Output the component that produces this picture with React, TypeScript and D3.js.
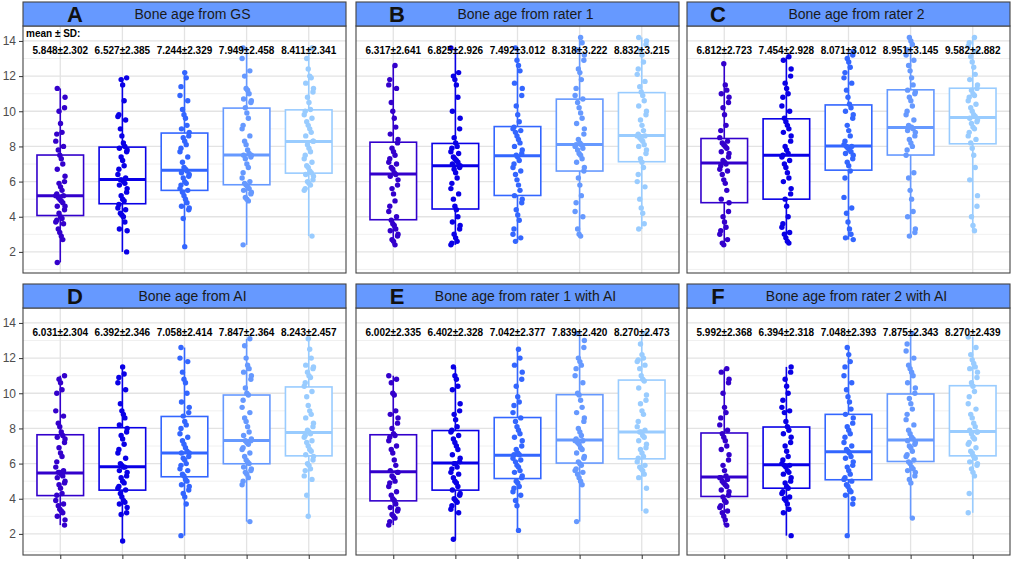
import { useEffect, useRef } from 'react';
import * as d3 from 'd3';

const GROUPS = ['G1', 'G2', 'G3', 'G4', 'G5'];
const GROUP_COLORS = ['#3300CC', '#0A00E6', '#3366FF', '#6699FF', '#99CCFF'];

const PANEL_LETTERS = ['A', 'B', 'C', 'D', 'E', 'F'];
const PANEL_TITLES = [
  'Bone age from GS',
  'Bone age from rater 1',
  'Bone age from rater 2',
  'Bone age from AI',
  'Bone age from rater 1 with AI',
  'Bone age from rater 2 with AI',
];

const MEAN_SD = [
  ['5.848±2.302', '6.527±2.385', '7.244±2.329', '7.949±2.458', '8.411±2.341'],
  ['6.317±2.641', '6.825±2.926', '7.492±3.012', '8.318±3.222', '8.832±3.215'],
  ['6.812±2.723', '7.454±2.928', '8.071±3.012', '8.951±3.145', '9.582±2.882'],
  ['6.031±2.304', '6.392±2.346', '7.058±2.414', '7.847±2.364', '8.243±2.457'],
  ['6.002±2.335', '6.402±2.328', '7.042±2.377', '7.839±2.420', '8.270±2.473'],
  ['5.992±2.368', '6.394±2.318', '7.048±2.393', '7.875±2.343', '8.270±2.439'],
];

// box statistics (per panel, per group)
const Q1 = [
  [4.07, 4.74, 5.5, 5.82, 6.48],
  [3.83, 4.44, 5.21, 6.6, 7.13],
  [4.8, 5.0, 6.65, 7.51, 8.15],
  [4.18, 4.49, 5.25, 5.99, 6.44],
  [3.88, 4.49, 5.15, 6.03, 6.27],
  [4.13, 4.6, 5.08, 6.12, 6.44],
];
const MEDIAN = [
  [5.19, 6.12, 6.65, 7.51, 8.28],
  [6.43, 6.9, 7.47, 8.11, 8.62],
  [7.05, 7.5, 8.03, 9.07, 9.64],
  [5.46, 5.82, 6.6, 7.31, 7.77],
  [5.53, 6.03, 6.48, 7.34, 7.79],
  [5.23, 5.93, 6.67, 7.34, 7.83],
];
const Q3 = [
  [7.51, 7.96, 8.76, 10.18, 10.08],
  [8.24, 8.17, 9.13, 10.69, 11.06],
  [8.45, 9.57, 10.36, 11.22, 11.31],
  [7.64, 8.04, 8.68, 9.9, 10.36],
  [7.64, 7.88, 8.62, 9.92, 10.75],
  [7.74, 8.08, 8.8, 9.96, 10.43],
];

const POINTS_A = [
  [1.4, 2.7, 2.9, 3.1, 3.3, 3.6, 3.7, 3.8, 3.9, 4.0, 4.2, 4.4, 4.6, 4.6, 4.8, 4.9, 5.0, 5.1, 5.2, 5.2, 5.3, 5.5, 5.7, 5.9, 6.0, 6.3, 6.7, 7.0, 7.3, 7.5, 7.8, 8.0, 8.3, 8.7, 8.8, 9.3, 10.0, 10.2, 10.8, 11.3],
  [2.0, 3.2, 3.3, 3.7, 4.0, 4.1, 4.2, 4.4, 4.5, 4.7, 4.9, 5.0, 5.2, 5.4, 5.6, 5.8, 5.9, 6.0, 6.1, 6.1, 6.2, 6.4, 6.7, 6.9, 7.2, 7.4, 7.7, 7.8, 7.9, 8.0, 8.2, 8.6, 9.0, 9.5, 9.7, 9.8, 10.6, 11.5, 11.8, 11.9],
  [2.3, 3.9, 4.4, 4.5, 4.6, 4.8, 5.0, 5.2, 5.4, 5.5, 5.6, 5.8, 5.9, 6.0, 6.2, 6.3, 6.4, 6.5, 6.6, 6.7, 6.8, 7.1, 7.4, 7.7, 7.9, 8.1, 8.3, 8.5, 8.6, 8.8, 9.0, 9.2, 9.6, 9.8, 10.1, 10.6, 10.9, 11.4, 11.9, 12.2],
  [2.4, 4.9, 5.0, 5.1, 5.3, 5.4, 5.5, 5.6, 5.7, 5.8, 5.9, 6.0, 6.2, 6.5, 6.8, 7.0, 7.3, 7.4, 7.5, 7.5, 7.6, 7.8, 8.1, 8.3, 8.6, 9.0, 9.2, 9.6, 9.9, 10.2, 10.5, 10.6, 10.7, 11.0, 11.2, 11.3, 12.0, 12.3, 13.0, 13.6],
  [2.9, 5.5, 5.6, 5.8, 5.9, 6.0, 6.1, 6.3, 6.4, 6.5, 6.6, 6.8, 6.9, 7.1, 7.3, 7.5, 7.7, 7.9, 8.1, 8.3, 8.3, 8.6, 8.8, 9.0, 9.2, 9.4, 9.6, 9.8, 10.0, 10.1, 10.5, 10.8, 11.1, 11.3, 11.6, 11.9, 12.0, 12.4, 13.0, 13.6],
];
const POINTS_B = [
  [2.4, 2.6, 2.7, 2.9, 3.0, 3.2, 3.3, 3.5, 3.6, 3.8, 4.0, 4.3, 4.6, 4.9, 5.3, 5.6, 5.8, 6.1, 6.3, 6.4, 6.5, 6.7, 6.8, 7.0, 7.1, 7.3, 7.5, 7.7, 7.9, 8.2, 8.4, 8.7, 9.1, 9.6, 10.0, 10.5, 11.3, 11.5, 11.8, 12.6],
  [2.4, 2.5, 2.6, 2.8, 3.0, 3.3, 3.5, 3.7, 4.0, 4.4, 4.6, 5.0, 5.3, 5.6, 5.9, 6.2, 6.5, 6.7, 6.8, 6.9, 7.0, 7.1, 7.2, 7.3, 7.4, 7.6, 7.7, 7.9, 8.0, 8.2, 8.5, 9.0, 9.6, 10.0, 10.8, 11.5, 11.8, 12.0, 12.2, 13.6],
  [2.6, 2.8, 3.0, 3.3, 3.8, 4.1, 4.4, 4.8, 5.0, 5.2, 5.5, 5.8, 6.1, 6.4, 6.6, 6.8, 7.0, 7.2, 7.4, 7.5, 7.6, 7.8, 8.0, 8.2, 8.4, 8.6, 8.8, 8.9, 9.0, 9.1, 9.4, 9.8, 10.3, 10.9, 11.3, 11.6, 12.3, 12.6, 12.9, 13.6],
  [2.9, 3.0, 3.3, 4.0, 4.3, 4.8, 5.2, 5.8, 6.2, 6.6, 6.8, 7.1, 7.3, 7.5, 7.6, 7.8, 7.9, 8.0, 8.1, 8.1, 8.2, 8.4, 8.7, 9.0, 9.3, 9.6, 9.9, 10.2, 10.5, 10.7, 10.9, 11.3, 11.8, 12.2, 12.4, 12.9, 13.2, 13.5, 13.9, 14.2],
  [3.3, 3.6, 4.2, 4.5, 5.0, 5.7, 6.0, 6.4, 6.8, 7.1, 7.3, 7.6, 7.8, 8.0, 8.1, 8.3, 8.4, 8.5, 8.6, 8.6, 8.7, 8.9, 9.2, 9.5, 9.8, 10.0, 10.3, 10.6, 10.9, 11.1, 11.4, 11.7, 12.1, 12.4, 12.8, 13.2, 13.5, 13.8, 14.0, 14.2],
];
const POINTS_C = [
  [2.4, 2.5, 2.7, 3.0, 3.2, 3.4, 3.7, 4.0, 4.3, 4.8, 5.0, 5.5, 5.9, 6.1, 6.4, 6.6, 6.7, 6.9, 7.0, 7.1, 7.2, 7.4, 7.6, 7.7, 7.9, 8.0, 8.1, 8.2, 8.3, 8.5, 8.9, 9.2, 9.8, 10.2, 10.5, 10.8, 11.0, 11.2, 11.5, 12.7],
  [2.5, 2.6, 2.8, 3.0, 3.1, 3.4, 3.6, 4.0, 4.6, 5.0, 5.3, 5.6, 6.0, 6.2, 6.5, 6.8, 7.0, 7.2, 7.4, 7.5, 7.6, 7.8, 8.0, 8.3, 8.6, 8.8, 9.0, 9.2, 9.4, 9.6, 10.0, 10.3, 10.8, 11.0, 11.3, 11.6, 12.0, 12.4, 12.9, 13.1],
  [2.7, 2.8, 3.0, 3.3, 3.7, 4.2, 4.5, 5.1, 6.2, 6.6, 6.9, 7.1, 7.3, 7.5, 7.6, 7.7, 7.8, 7.9, 8.0, 8.0, 8.1, 8.3, 8.6, 8.9, 9.2, 9.6, 9.8, 10.0, 10.2, 10.4, 10.8, 11.2, 11.6, 11.9, 12.2, 12.5, 12.8, 13.0, 13.2, 13.4],
  [2.9, 3.1, 3.3, 4.0, 4.3, 5.0, 5.5, 6.2, 6.5, 7.5, 7.8, 8.0, 8.2, 8.4, 8.6, 8.8, 8.9, 9.0, 9.1, 9.1, 9.2, 9.5, 9.8, 10.0, 10.3, 10.6, 10.8, 11.0, 11.1, 11.2, 11.5, 11.9, 12.3, 12.6, 12.9, 13.2, 13.5, 13.8, 14.0, 14.2],
  [3.2, 3.5, 4.0, 4.6, 5.2, 6.1, 6.8, 7.5, 7.9, 8.2, 8.4, 8.6, 8.8, 9.0, 9.1, 9.3, 9.4, 9.5, 9.6, 9.7, 9.8, 10.0, 10.2, 10.4, 10.6, 10.8, 10.9, 11.0, 11.2, 11.3, 11.5, 11.8, 12.1, 12.5, 12.8, 13.1, 13.4, 13.7, 13.9, 14.2],
];
const POINTS_D = [
  [2.5, 2.8, 3.0, 3.2, 3.3, 3.4, 3.6, 3.7, 3.9, 4.2, 4.3, 4.6, 4.8, 4.9, 5.0, 5.2, 5.3, 5.4, 5.5, 5.5, 5.6, 5.8, 6.1, 6.4, 6.6, 6.9, 7.2, 7.4, 7.5, 7.6, 7.8, 8.1, 8.3, 8.7, 9.0, 10.0, 10.2, 10.6, 10.8, 11.0],
  [1.6, 3.1, 3.2, 3.5, 3.7, 3.8, 3.9, 4.1, 4.3, 4.5, 4.6, 4.7, 4.9, 5.0, 5.2, 5.3, 5.5, 5.6, 5.8, 5.8, 5.9, 6.0, 6.3, 6.6, 6.8, 7.1, 7.4, 7.6, 7.8, 8.0, 8.2, 8.6, 8.8, 9.0, 9.4, 10.2, 10.6, 10.9, 11.1, 11.5],
  [1.9, 3.7, 4.1, 4.3, 4.5, 4.7, 4.8, 5.0, 5.1, 5.3, 5.4, 5.6, 5.7, 5.9, 6.0, 6.2, 6.3, 6.4, 6.6, 6.6, 6.7, 6.9, 7.1, 7.3, 7.5, 7.7, 8.0, 8.2, 8.4, 8.7, 8.9, 9.2, 9.5, 10.0, 10.6, 10.8, 11.2, 11.8, 12.0, 12.6],
  [2.7, 4.8, 5.0, 5.2, 5.4, 5.5, 5.6, 5.7, 5.8, 6.0, 6.1, 6.2, 6.4, 6.6, 6.8, 6.9, 7.1, 7.2, 7.3, 7.3, 7.4, 7.6, 7.8, 8.1, 8.4, 8.6, 8.9, 9.2, 9.6, 9.9, 10.0, 10.3, 10.8, 11.0, 11.2, 11.4, 11.6, 12.0, 12.7, 13.1],
  [3.0, 4.2, 5.1, 5.3, 5.6, 5.7, 5.9, 6.0, 6.2, 6.4, 6.5, 6.7, 6.8, 7.0, 7.2, 7.3, 7.5, 7.6, 7.7, 7.8, 7.9, 8.1, 8.3, 8.6, 8.8, 9.0, 9.3, 9.8, 10.1, 10.4, 10.6, 10.9, 11.0, 11.2, 11.4, 11.5, 11.6, 12.0, 12.5, 13.1],
];
const POINTS_E = [
  [2.5, 2.7, 2.9, 3.0, 3.1, 3.3, 3.4, 3.5, 3.7, 3.9, 4.0, 4.2, 4.4, 4.7, 4.9, 5.0, 5.2, 5.3, 5.5, 5.5, 5.6, 5.9, 6.2, 6.6, 6.8, 7.0, 7.3, 7.5, 7.6, 7.7, 8.0, 8.3, 8.6, 8.8, 9.0, 9.9, 10.0, 10.6, 10.8, 11.0],
  [1.7, 3.2, 3.4, 3.6, 3.8, 3.9, 4.0, 4.2, 4.3, 4.5, 4.7, 4.9, 5.0, 5.2, 5.4, 5.5, 5.7, 5.8, 6.0, 6.0, 6.1, 6.3, 6.5, 6.8, 7.0, 7.2, 7.4, 7.6, 7.8, 7.9, 8.1, 8.5, 8.8, 9.0, 9.4, 10.2, 10.4, 10.8, 11.0, 11.5],
  [2.2, 3.6, 3.9, 4.2, 4.4, 4.6, 4.7, 4.9, 5.0, 5.2, 5.3, 5.5, 5.6, 5.8, 5.9, 6.1, 6.2, 6.3, 6.5, 6.5, 6.6, 6.8, 7.0, 7.3, 7.5, 7.7, 7.9, 8.1, 8.4, 8.6, 8.9, 9.3, 9.5, 9.8, 10.4, 10.8, 11.2, 11.6, 12.0, 12.5],
  [2.7, 4.8, 5.0, 5.2, 5.4, 5.5, 5.6, 5.7, 5.9, 6.0, 6.1, 6.3, 6.4, 6.6, 6.8, 6.9, 7.1, 7.2, 7.3, 7.3, 7.4, 7.6, 7.8, 8.0, 8.4, 8.6, 8.9, 9.2, 9.6, 9.9, 10.0, 10.6, 11.0, 11.4, 11.6, 11.8, 12.0, 12.6, 13.0, 13.4],
  [3.3, 4.6, 5.2, 5.4, 5.6, 5.7, 5.8, 5.9, 6.1, 6.3, 6.4, 6.6, 6.8, 6.9, 7.1, 7.3, 7.5, 7.6, 7.8, 7.8, 7.9, 8.1, 8.4, 8.8, 9.0, 9.4, 9.6, 9.9, 10.3, 10.7, 10.8, 11.0, 11.4, 11.6, 11.8, 11.9, 12.0, 12.2, 12.8, 13.4],
];
const POINTS_F = [
  [2.5, 2.8, 3.0, 3.2, 3.3, 3.5, 3.6, 3.8, 3.9, 4.1, 4.2, 4.4, 4.5, 4.7, 4.8, 4.9, 5.0, 5.1, 5.2, 5.2, 5.3, 5.6, 5.9, 6.2, 6.5, 6.8, 7.0, 7.3, 7.5, 7.7, 7.9, 8.2, 8.6, 8.9, 9.2, 10.0, 10.6, 10.8, 11.2, 11.4],
  [1.9, 3.2, 3.4, 3.7, 3.9, 4.0, 4.1, 4.3, 4.4, 4.6, 4.7, 4.9, 5.0, 5.2, 5.4, 5.5, 5.6, 5.8, 5.9, 5.9, 6.0, 6.2, 6.4, 6.7, 7.0, 7.2, 7.5, 7.7, 7.9, 8.1, 8.4, 8.9, 9.0, 9.2, 9.6, 10.0, 10.4, 10.8, 11.2, 11.5],
  [1.9, 3.7, 4.0, 4.2, 4.4, 4.5, 4.7, 4.8, 5.0, 5.1, 5.2, 5.4, 5.6, 5.8, 5.9, 6.1, 6.3, 6.4, 6.6, 6.7, 6.8, 7.0, 7.2, 7.5, 7.7, 7.9, 8.1, 8.3, 8.6, 8.8, 9.1, 9.5, 9.8, 10.2, 10.6, 11.0, 11.5, 11.8, 12.2, 12.6],
  [2.9, 4.9, 5.1, 5.3, 5.5, 5.6, 5.7, 5.8, 6.0, 6.1, 6.2, 6.4, 6.5, 6.7, 6.9, 7.0, 7.1, 7.2, 7.3, 7.4, 7.5, 7.7, 7.9, 8.2, 8.5, 8.8, 9.1, 9.4, 9.7, 10.0, 10.3, 10.6, 11.0, 11.2, 11.4, 11.6, 12.0, 12.4, 12.8, 13.4],
  [3.2, 4.3, 5.3, 5.5, 5.7, 5.9, 6.0, 6.1, 6.3, 6.4, 6.6, 6.7, 6.9, 7.1, 7.2, 7.4, 7.5, 7.7, 7.8, 7.8, 7.9, 8.1, 8.3, 8.6, 8.8, 9.1, 9.4, 9.8, 10.1, 10.4, 10.6, 10.9, 11.2, 11.4, 11.5, 11.7, 11.9, 12.2, 12.6, 13.2],
];
const POINTS = [POINTS_A, POINTS_B, POINTS_C, POINTS_D, POINTS_E, POINTS_F];

const Y_TICKS = [2, 4, 6, 8, 10, 12, 14];
const Y_MINOR = [1, 3, 5, 7, 9, 11, 13];

// fixed horizontal jitter pattern (fraction of jitter width)
const JITTER = [-0.6, 0.35, -0.1, 0.85, -0.9, 0.5, 0.05, -0.4, 0.95, -0.7, 0.2, -0.25, 0.65];

const WIDTH = 1013;
const HEIGHT = 561;
const FONT = '"Liberation Sans", Arial, sans-serif';

export default function App() {
  const svgRef = useRef<SVGSVGElement>(null);

  useEffect(() => {
    if (!svgRef.current) return;
    const svg = d3.select(svgRef.current);
    svg.selectAll('*').remove();

    svg.append('rect').attr('width', WIDTH).attr('height', HEIGHT).attr('fill', '#fff');

    const colLeft = [23, 356, 687];
    const stripTop = [2, 284];
    const stripH = 24;
    const panelW = 323;
    const panelH = 247;

    const color = d3.scaleOrdinal<string, string>().domain(GROUPS).range(GROUP_COLORS);

    PANEL_LETTERS.forEach((letter, p) => {
      const row = Math.floor(p / 3);
      const col = p % 3;
      const left = colLeft[col];
      const top = stripTop[row] + stripH;

      const x = d3
        .scalePoint<string>()
        .domain(GROUPS)
        .range([left, left + panelW])
        .padding(0.6);
      const y = d3.scaleLinear().domain([0.8, 14.85]).range([top + panelH, top]);
      const boxW = x.step() * 0.75;

      const g = svg.append('g');

      // grid
      g.selectAll('.minor')
        .data(Y_MINOR)
        .join('line')
        .attr('x1', left)
        .attr('x2', left + panelW)
        .attr('y1', (d) => y(d))
        .attr('y2', (d) => y(d))
        .attr('stroke', '#eeeeee')
        .attr('stroke-width', 0.9);
      g.selectAll('.major')
        .data(Y_TICKS)
        .join('line')
        .attr('x1', left)
        .attr('x2', left + panelW)
        .attr('y1', (d) => y(d))
        .attr('y2', (d) => y(d))
        .attr('stroke', '#e3e3e3')
        .attr('stroke-width', 1.3);
      g.selectAll('.vgrid')
        .data(GROUPS)
        .join('line')
        .attr('x1', (d) => x(d)!)
        .attr('x2', (d) => x(d)!)
        .attr('y1', top)
        .attr('y2', top + panelH)
        .attr('stroke', '#e3e3e3')
        .attr('stroke-width', 1.3);

      GROUPS.forEach((grp, i) => {
        const pts = POINTS[p][i];
        const [lo, hi] = d3.extent(pts) as [number, number];
        const cx = x(grp)!;
        const c = color(grp);

        // whisker
        g.append('line')
          .attr('x1', cx)
          .attr('x2', cx)
          .attr('y1', y(lo))
          .attr('y2', y(hi))
          .attr('stroke', c)
          .attr('stroke-width', 1.6);

        // box
        g.append('rect')
          .attr('x', cx - boxW / 2)
          .attr('width', boxW)
          .attr('y', y(Q3[p][i]))
          .attr('height', y(Q1[p][i]) - y(Q3[p][i]))
          .attr('fill', '#fff')
          .attr('stroke', c)
          .attr('stroke-width', 1.6);

        g.append('line')
          .attr('x1', cx - boxW / 2)
          .attr('x2', cx + boxW / 2)
          .attr('y1', y(MEDIAN[p][i]))
          .attr('y2', y(MEDIAN[p][i]))
          .attr('stroke', c)
          .attr('stroke-width', 3);

        // jittered points
        g.selectAll(`.pt${i}`)
          .data(pts)
          .join('circle')
          .attr('cx', (d, k) => cx + JITTER[(k * 5 + i * 3 + p) % JITTER.length] * 5)
          .attr('cy', (d) => y(d))
          .attr('r', 2.7)
          .attr('fill', c);

        // mean ± SD label
        g.append('text')
          .attr('x', cx)
          .attr('y', y(13.45))
          .attr('dy', '0.35em')
          .attr('text-anchor', 'middle')
          .attr('font-family', FONT)
          .attr('font-weight', 'bold')
          .attr('font-size', 10)
          .attr('fill', '#000')
          .text(MEAN_SD[p][i]);
      });

      if (p === 0) {
        g.append('text')
          .attr('x', left + 3)
          .attr('y', y(14.45))
          .attr('dy', '0.35em')
          .attr('font-family', FONT)
          .attr('font-weight', 'bold')
          .attr('font-size', 10)
          .attr('fill', '#000')
          .text('mean ± SD:');
      }

      // panel border
      g.append('rect')
        .attr('x', left)
        .attr('y', top)
        .attr('width', panelW)
        .attr('height', panelH)
        .attr('fill', 'none')
        .attr('stroke', '#444')
        .attr('stroke-width', 1.1);

      // strip
      g.append('rect')
        .attr('x', left)
        .attr('y', stripTop[row])
        .attr('width', panelW)
        .attr('height', stripH)
        .attr('fill', '#6699FF')
        .attr('stroke', '#444')
        .attr('stroke-width', 1.1);
      g.append('text')
        .attr('x', left + [52, 41, 31][col])
        .attr('y', stripTop[row] + stripH / 2)
        .attr('dy', '0.36em')
        .attr('text-anchor', 'middle')
        .attr('font-family', FONT)
        .attr('font-weight', 'bold')
        .attr('font-size', 22)
        .attr('fill', '#111')
        .text(letter);
      g.append('text')
        .attr('x', left + panelW / 2 + 8)
        .attr('y', stripTop[row] + stripH / 2)
        .attr('dy', '0.36em')
        .attr('text-anchor', 'middle')
        .attr('font-family', FONT)
        .attr('font-size', 14)
        .attr('fill', '#1a1a1a')
        .text(PANEL_TITLES[p]);

      // y axis on left column
      if (col === 0) {
        const ax = g.append('g').attr('transform', `translate(${left},0)`).call(
          d3.axisLeft(y).tickValues(Y_TICKS).tickSize(4).tickPadding(3).tickFormat(d3.format('d'))
        );
        ax.select('.domain').remove();
        ax.selectAll('.tick line').attr('stroke', '#333');
        ax.selectAll('.tick text')
          .attr('fill', '#4d4d4d')
          .attr('font-size', 12)
          .attr('font-family', FONT);
      }

      // x ticks on bottom row (no labels)
      if (row === 1) {
        const ax = g
          .append('g')
          .attr('transform', `translate(0,${top + panelH})`)
          .call(d3.axisBottom(x).tickSize(4).tickFormat(() => ''));
        ax.select('.domain').remove();
        ax.selectAll('.tick line').attr('stroke', '#333');
      }
    });
  }, []);

  return (
    <div style={{ position: 'absolute', left: 0, top: 0 }}>
      <svg ref={svgRef} width={WIDTH} height={HEIGHT} style={{ display: 'block' }} />
    </div>
  );
}
